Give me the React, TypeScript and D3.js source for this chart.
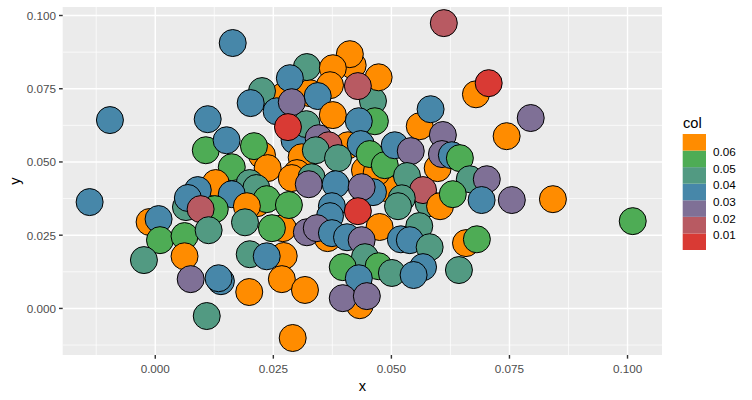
import React from 'react';
import * as d3 from 'd3';

// point values (drawn in this order, later on top)
const xVals = [
  0.0418, 0.0327, 0.0274, 0.0295, 0.0408, 0.0310, 0.0226, 0.0300, 0.0065, 0.0139,
  0.0433, 0.0488, 0.0444, 0.0469, 0.0560, 0.0215, 0.0461, 0.0270, 0.0365, 0.0272,
  0.0164, -0.0096, 0.0611, 0.0412, 0.0321, 0.0376, 0.0473, 0.0285, 0.0370, 0.0429,
  0.0226, 0.0202, 0.0344, 0.0257, 0.0289, 0.0111, 0.0376, 0.0465, 0.0431, 0.0320,
  0.0281, 0.0679, 0.0706, 0.0583, 0.0609, 0.0795, 0.0744, 0.0346, 0.0367, 0.0435,
  0.0340, 0.0387, 0.0454, 0.0486, 0.0507, 0.0541, 0.0598, 0.0607, 0.0628, 0.0645,
  0.0107, 0.0151, 0.0209, 0.0238, 0.0162, 0.0289, 0.0331, 0.0325, 0.0128, 0.0090,
  0.0069, 0.0200, 0.0214, 0.0162, 0.0382, 0.0461, 0.0437, 0.0533, 0.0666, 0.0702,
  0.0236, 0.0283, 0.0194, 0.0126, 0.0096, -0.0012, 0.0007, -0.0139, 0.0579, 0.0567,
  0.0603, 0.0630, 0.0691, 0.0755, 0.0842, 0.1011, 0.0522, 0.0514, 0.0374, 0.0370,
  0.0429, 0.0190, 0.0247, 0.0010, 0.0062, 0.0113, 0.0321, 0.0342, 0.0374, 0.0475,
  0.0406, 0.0437, 0.0559, 0.0520, 0.0539, 0.0581, 0.0658, 0.0681, -0.0024, 0.0062,
  0.0200, 0.0236, 0.0444, 0.0397, 0.0473, 0.0501, 0.0431, 0.0567, 0.0547, 0.0643,
  0.0075, 0.0134, 0.0268, 0.0317, 0.0199, 0.0397, 0.0448, 0.0109, 0.0291,
];
const yVals = [
  0.0830, 0.0735, 0.0728, 0.0574, 0.0557, 0.0516, 0.0523, 0.0462, 0.0346, 0.0093,
  0.0011, 0.0411, 0.0472, 0.0465, 0.0622, 0.0359, 0.0708, 0.0274, 0.0240, 0.0179,
  0.0906, 0.0643, 0.0974, 0.0868, 0.0824, 0.0820, 0.0789, 0.0786, 0.0762, 0.0759,
  0.0742, 0.0701, 0.0725, 0.0673, 0.0704, 0.0646, 0.0660, 0.0639, 0.0639, 0.0629,
  0.0619, 0.0731, 0.0769, 0.0680, 0.0592, 0.0650, 0.0588, 0.0581, 0.0557, 0.0561,
  0.0540, 0.0513, 0.0527, 0.0489, 0.0557, 0.0537, 0.0479, 0.0527, 0.0523, 0.0513,
  0.0540, 0.0574, 0.0554, 0.0479, 0.0482, 0.0445, 0.0448, 0.0424, 0.0428, 0.0404,
  0.0377, 0.0428, 0.0411, 0.0390, 0.0424, 0.0397, 0.0414, 0.0452, 0.0441, 0.0441,
  0.0373, 0.0353, 0.0349, 0.0339, 0.0339, 0.0295, 0.0305, 0.0363, 0.0359, 0.0404,
  0.0349, 0.0390, 0.0370, 0.0370, 0.0373, 0.0298, 0.0376, 0.0349, 0.0349, 0.0315,
  0.0332, 0.0294, 0.0274, 0.0233, 0.0247, 0.0267, 0.0260, 0.0274, 0.0257, 0.0278,
  0.0243, 0.0233, 0.0281, 0.0236, 0.0233, 0.0209, 0.0223, 0.0236, 0.0165, 0.0178,
  0.0185, 0.0178, 0.0175, 0.0141, 0.0144, 0.0121, 0.0103, 0.0141, 0.0114, 0.0131,
  0.0100, 0.0103, 0.0100, 0.0063, 0.0056, 0.0035, 0.0042, -0.0026, -0.0101,
];
const colVals = [
  0.066, 0.064, 0.067, 0.034, 0.065, 0.063, 0.066, 0.068, 0.045, 0.036,
  0.064, 0.066, 0.065, 0.067, 0.063, 0.065, 0.044, 0.066, 0.064, 0.067,
  0.035, 0.036, 0.014, 0.065, 0.046, 0.064, 0.066, 0.035, 0.063, 0.016,
  0.044, 0.034, 0.036, 0.035, 0.025, 0.037, 0.065, 0.055, 0.034, 0.045,
  0.006, 0.066, 0.004, 0.035, 0.026, 0.024, 0.064, 0.025, 0.015, 0.036,
  0.046, 0.044, 0.055, 0.054, 0.035, 0.025, 0.067, 0.026, 0.034, 0.056,
  0.054, 0.035, 0.056, 0.065, 0.055, 0.066, 0.045, 0.024, 0.063, 0.036,
  0.034, 0.045, 0.046, 0.035, 0.036, 0.034, 0.025, 0.044, 0.045, 0.026,
  0.055, 0.054, 0.066, 0.056, 0.015, 0.064, 0.035, 0.036, 0.045, 0.016,
  0.065, 0.055, 0.034, 0.025, 0.066, 0.054, 0.046, 0.044, 0.035, 0.036,
  0.005, 0.045, 0.056, 0.055, 0.054, 0.046, 0.024, 0.026, 0.035, 0.064,
  0.036, 0.025, 0.044, 0.035, 0.034, 0.046, 0.065, 0.055, 0.045, 0.066,
  0.044, 0.036, 0.045, 0.056, 0.054, 0.046, 0.035, 0.034, 0.036, 0.044,
  0.024, 0.035, 0.065, 0.066, 0.064, 0.025, 0.026, 0.045, 0.065,
];

const xTicks = [0, 0.025, 0.05, 0.075, 0.1];
const yTicks = [0, 0.025, 0.05, 0.075, 0.1];
const minorBreaks = [-0.0125, 0.0125, 0.0375, 0.0625, 0.0875, 0.1125];

// binned fill scale (legend reads top to bottom: orange ... red)
const colBreaks = [0.01, 0.02, 0.03, 0.04, 0.05, 0.06];
const colColors = ['#D93A34', '#B85A62', '#7F7096', '#4787A9', '#529A82', '#4EAC55', '#FF8C00'];

const xDomain = [-0.0196, 0.1073];
const yDomain = [-0.0159, 0.1029];

const font = '"Liberation Sans", Arial, sans-serif';

export default function App() {
  const width = 752;
  const height = 400;
  const panel = { left: 62.7, top: 7, right: 662, bottom: 355 };

  const x = d3.scaleLinear().domain(xDomain).range([panel.left, panel.right]);
  const y = d3.scaleLinear().domain(yDomain).range([panel.bottom, panel.top]);
  const fill = d3.scaleThreshold<number, string>().domain(colBreaks).range(colColors);

  const xMinor = minorBreaks.filter((v) => v > xDomain[0] && v < xDomain[1]);
  const yMinor = minorBreaks.filter((v) => v > yDomain[0] && v < yDomain[1]);

  // legend bar: seven equal bins
  const legendY = d3.scaleLinear().domain([0, 0.07]).range([250, 134]);
  const binEdges = [0, ...colBreaks, 0.07];

  const fmt = d3.format('.3f');

  return (
    <svg
      width={width}
      height={height}
      style={{ position: 'absolute', left: 0, top: 0, background: '#fff' }}
      fontFamily={font}
    >
      <rect
        x={panel.left}
        y={panel.top}
        width={panel.right - panel.left}
        height={panel.bottom - panel.top}
        fill="#EBEBEB"
      />
      {/* minor grid */}
      {xMinor.map((v) => (
        <line key={'xm' + v} x1={x(v)} x2={x(v)} y1={panel.top} y2={panel.bottom} stroke="#fff" strokeWidth={0.71} />
      ))}
      {yMinor.map((v) => (
        <line key={'ym' + v} x1={panel.left} x2={panel.right} y1={y(v)} y2={y(v)} stroke="#fff" strokeWidth={0.71} />
      ))}
      {/* major grid */}
      {xTicks.map((v) => (
        <line key={'xg' + v} x1={x(v)} x2={x(v)} y1={panel.top} y2={panel.bottom} stroke="#fff" strokeWidth={1.42} />
      ))}
      {yTicks.map((v) => (
        <line key={'yg' + v} x1={panel.left} x2={panel.right} y1={y(v)} y2={y(v)} stroke="#fff" strokeWidth={1.42} />
      ))}

      {/* points */}
      <g>
        {xVals.map((xv, i) => (
          <circle
            key={i}
            cx={x(xv)}
            cy={y(yVals[i])}
            r={13.5}
            fill={fill(colVals[i])}
            stroke="#000"
            strokeWidth={1}
          />
        ))}
      </g>

      {/* x axis */}
      {xTicks.map((v) => (
        <g key={'xt' + v}>
          <line x1={x(v)} x2={x(v)} y1={panel.bottom} y2={panel.bottom + 3.67} stroke="#333" strokeWidth={1.42} />
          <text x={x(v)} y={368} textAnchor="middle" dominantBaseline="central" fontSize={11.7} fill="#4D4D4D">
            {fmt(v)}
          </text>
        </g>
      ))}
      <text x={(panel.left + panel.right) / 2} y={385.5} textAnchor="middle" dominantBaseline="central" fontSize={14.67} fill="#000">
        x
      </text>

      {/* y axis */}
      {yTicks.map((v) => (
        <g key={'yt' + v}>
          <line x1={panel.left - 3.67} x2={panel.left} y1={y(v)} y2={y(v)} stroke="#333" strokeWidth={1.42} />
          <text x={56} y={y(v)} textAnchor="end" dominantBaseline="central" fontSize={11.7} fill="#4D4D4D">
            {fmt(v)}
          </text>
        </g>
      ))}
      <text
        x={15}
        y={(panel.top + panel.bottom) / 2}
        textAnchor="middle"
        dominantBaseline="central"
        fontSize={14.67}
        fill="#000"
        transform={`rotate(-90, 15, ${(panel.top + panel.bottom) / 2})`}
      >
        y
      </text>

      {/* legend */}
      <text x={683} y={122.5} dominantBaseline="central" fontSize={14.67} fill="#000">
        col
      </text>
      {colColors.map((c, i) => (
        <rect
          key={'lb' + i}
          x={682.7}
          y={legendY(binEdges[i + 1])}
          width={23.3}
          height={legendY(binEdges[i]) - legendY(binEdges[i + 1])}
          fill={c}
        />
      ))}
      {colBreaks.map((b) => (
        <text key={'ll' + b} x={713} y={legendY(b) + 1.2} dominantBaseline="central" fontSize={11.7} fill="#000">
          {b.toFixed(2)}
        </text>
      ))}
    </svg>
  );
}
